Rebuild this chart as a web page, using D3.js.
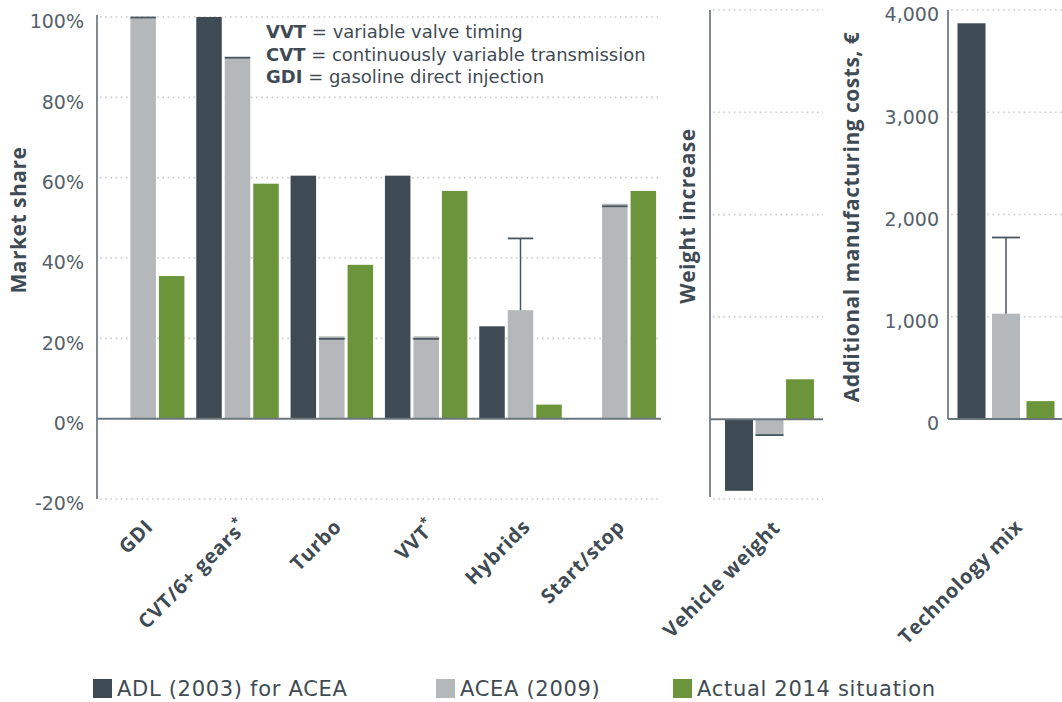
<!DOCTYPE html>
<html>
<head>
<meta charset="utf-8">
<script src="https://cdn.jsdelivr.net/npm/d3@7"></script>
<style>
  html, body { margin: 0; padding: 0; background: #fff; }
  svg { display: block; font-family: "DejaVu Sans", "Open Sans", sans-serif; }
</style>
</head>
<body>
<svg id="chart" width="1062" height="702"></svg>
<script>
// ---------- DATA ----------
const series = ["ADL (2003) for ACEA", "ACEA (2009)", "Actual 2014 situation"];
const seriesColors = ["#3f4b54", "#b4b8ba", "#6c943b"];

const categories = ["GDI", "CVT/6+ gears*", "Turbo", "VVT*", "Hybrids", "Start/stop"];
const adl2003 = [null, 100, 60.5, 60.5, 23, null];
const acea2009 = [100, 90, 20.5, 20.5, 27, 53.5];
const acea2009High = [100, 90, 20, 20, 45, 53];
const actual2014 = [35.5, 58.5, 38.3, 56.7, 3.5, 56.7];
const shareTicks = [-20, 0, 20, 40, 60, 80, 100];

const weightCategories = ["Vehicle weight"];
const weightAdl = [-70];
const weightAcea = [-16];
const weightAceaHigh = [-16];
const weightActual = [39];
const weightDomain = [-78, 400];
const weightGrid = [-78, 100, 200, 300, 400];

const costCategories = ["Technology mix"];
const costAdl = [3870];
const costAcea = [1030];
const costAceaHigh = [1780];
const costActual = [175];
const costTicks = [0, 1000, 2000, 3000, 4000];

const notes = [
  ["VVT", " = variable valve timing"],
  ["CVT", " = continuously variable transmission"],
  ["GDI", " = gasoline direct injection"]
];

// ---------- STYLE ----------
const FONT = "'DejaVu Sans', sans-serif";
const LABEL_FONT = "'Open Sans', sans-serif";
const textColor = "#3f4b54";
const tickColor = "#55616a";
const axisColor = "#56626b";
const gridColor = "#c9cccd";

const svg = d3.select("#chart");

function drawPanel(opts) {
  const g = svg.append("g");
  const { cats, values, high, y, xRange, axisX, gridRight, gridVals, tickVals, tickFmt, tickGap,
          innerWidth, innerPad, labelDx, labelY, yLabel, yLabelX, yLabelY, axisTop, axisBottom } = opts;

  const x0 = d3.scaleBand().domain(cats).range(xRange);
  const x1 = d3.scaleBand().domain(series).range([0, innerWidth]).paddingInner(innerPad);
  const groupOffset = (x0.bandwidth() - innerWidth) / 2;

  // gridlines
  g.append("g").selectAll("line").data(gridVals).join("line")
    .attr("x1", axisX + 3).attr("x2", gridRight)
    .attr("y1", d => y(d)).attr("y2", d => y(d))
    .attr("stroke", gridColor).attr("stroke-width", 1.6)
    .attr("stroke-dasharray", "1.6,3.6");

  // bars
  const rows = [];
  cats.forEach((c, i) => {
    series.forEach((s, j) => {
      const v = values[j][i];
      if (v === null || v === undefined) return;
      rows.push({ c, s, j, v, i });
    });
  });
  g.append("g").selectAll("rect").data(rows).join("rect")
    .attr("x", d => x0(d.c) + groupOffset + x1(d.s))
    .attr("width", x1.bandwidth())
    .attr("y", d => Math.min(y(d.v), y(0)))
    .attr("height", d => Math.abs(y(d.v) - y(0)))
    .attr("fill", d => seriesColors[d.j]);

  // ACEA range markers (whisker + cap)
  const errG = g.append("g");
  cats.forEach((c, i) => {
    const hv = high[i];
    if (hv === null || hv === undefined) return;
    const bx = x0(c) + groupOffset + x1(series[1]);
    const cx = bx + x1.bandwidth() / 2;
    const v = values[1][i];
    if (Math.abs(hv - v) > 2) {
      errG.append("line").attr("x1", cx).attr("x2", cx)
        .attr("y1", y(v)).attr("y2", y(hv))
        .attr("stroke", "#4a555e").attr("stroke-width", 1.5);
    }
    const off = hv >= 0 ? 0.5 : -0.5;
    errG.append("line").attr("x1", bx).attr("x2", bx + x1.bandwidth())
      .attr("y1", y(hv) + off).attr("y2", y(hv) + off)
      .attr("stroke", "#4a555e").attr("stroke-width", 1.8);
  });

  // vertical axis line
  g.append("line").attr("x1", axisX).attr("x2", axisX)
    .attr("y1", axisTop).attr("y2", axisBottom)
    .attr("stroke", axisColor).attr("stroke-width", 1.5);

  // zero line
  g.append("line").attr("x1", axisX).attr("x2", gridRight)
    .attr("y1", y(0)).attr("y2", y(0))
    .attr("stroke", "#6b757c").attr("stroke-width", 2);

  // y tick labels
  if (tickVals) {
    const ax = d3.axisLeft(y).tickValues(tickVals).tickFormat(tickFmt).tickSize(0).tickPadding(0);
    const axG = g.append("g").attr("transform", `translate(${axisX - tickGap},4)`).call(ax);
    axG.select(".domain").remove();
    axG.selectAll("text").attr("font-size", 19).attr("fill", tickColor)
      .attr("font-family", FONT).attr("dy", "0.36em");
  }

  // x category labels
  const xa = d3.axisBottom(x0).tickSize(0).tickPadding(0);
  const xG = g.append("g").attr("transform", `translate(0,${labelY})`).call(xa);
  xG.select(".domain").remove();
  xG.selectAll("text")
    .attr("font-size", 20).attr("font-weight", 700).attr("letter-spacing", 0.7)
    .attr("fill", textColor)
    .attr("font-family", LABEL_FONT)
    .attr("text-anchor", "end")
    .attr("dy", 0).attr("y", 0)
    .attr("transform", `translate(${labelDx},0) rotate(-45)`)
    .each(function (d) {
      const t = d3.select(this);
      if (d.endsWith("*")) {
        t.text(d.slice(0, -1));
        t.append("tspan").attr("baseline-shift", "super").attr("font-size", 13).text("*");
      }
    });

  // y axis title
  g.append("text").attr("transform", `translate(${yLabelX},${yLabelY}) rotate(-90)`)
    .attr("text-anchor", "middle").attr("font-size", 21).attr("font-weight", 700)
    .attr("letter-spacing", 0.5).attr("font-family", LABEL_FONT)
    .attr("fill", textColor).text(yLabel);
}

// Panel 1 : market share
const yShare = d3.scaleLinear().domain([-20, 100]).range([499, 17]);
drawPanel({
  cats: categories, values: [adl2003, acea2009, actual2014], high: acea2009High,
  y: yShare, xRange: [96, 662], axisX: 97, gridRight: 661,
  gridVals: shareTicks.filter(d => d !== 0), tickVals: shareTicks, tickFmt: d => d + "%", tickGap: 13,
  innerWidth: 82.5, innerPad: 0.105, labelDx: 11, labelY: 528,
  yLabel: "Market share", yLabelX: 26, yLabelY: 220, axisTop: 15, axisBottom: 499
});

// Panel 2 : vehicle weight
const yWeight = d3.scaleLinear().domain(weightDomain).range([499, 10]);
drawPanel({
  cats: weightCategories, values: [weightAdl, weightAcea, weightActual], high: weightAceaHigh,
  y: yWeight, xRange: [710, 829], axisX: 710, gridRight: 823,
  gridVals: weightGrid, tickVals: null, tickFmt: null, tickGap: 0,
  innerWidth: 89, innerPad: 0.082, labelDx: 12, labelY: 529,
  yLabel: "Weight increase", yLabelX: 695, yLabelY: 216, axisTop: 10, axisBottom: 497
});

// Panel 3 : manufacturing costs
const yCost = d3.scaleLinear().domain([0, 4000]).range([419, 10]);
drawPanel({
  cats: costCategories, values: [costAdl, costAcea, costActual], high: costAceaHigh,
  y: yCost, xRange: [948, 1064], axisX: 948, gridRight: 1062,
  gridVals: costTicks.filter(d => d !== 0), tickVals: costTicks, tickFmt: d3.format(","), tickGap: 9,
  innerWidth: 97, innerPad: 0.188, labelDx: 18, labelY: 528,
  yLabel: "Additional manufacturing costs, €", yLabelX: 859, yLabelY: 217, axisTop: 10, axisBottom: 419
});

// Notes
const notesG = svg.append("g");
notes.forEach((n, i) => {
  const t = notesG.append("text").attr("x", 266).attr("y", 38 + i * 22.5)
    .attr("font-size", 18).attr("fill", textColor).attr("font-family", FONT);
  t.append("tspan").attr("font-weight", 700).text(n[0]);
  t.append("tspan").text(n[1]);
});

// Legend
const legendX = [93, 436, 673];
const lg = svg.append("g");
series.forEach((s, i) => {
  lg.append("rect").attr("x", legendX[i]).attr("y", 679).attr("width", 19).attr("height", 19)
    .attr("fill", seriesColors[i]);
  lg.append("text").attr("x", legendX[i] + 24).attr("y", 696)
    .attr("font-size", 21).attr("letter-spacing", 0.7).attr("fill", textColor)
    .attr("font-family", FONT).text(s);
});
</script>
</body>
</html>
